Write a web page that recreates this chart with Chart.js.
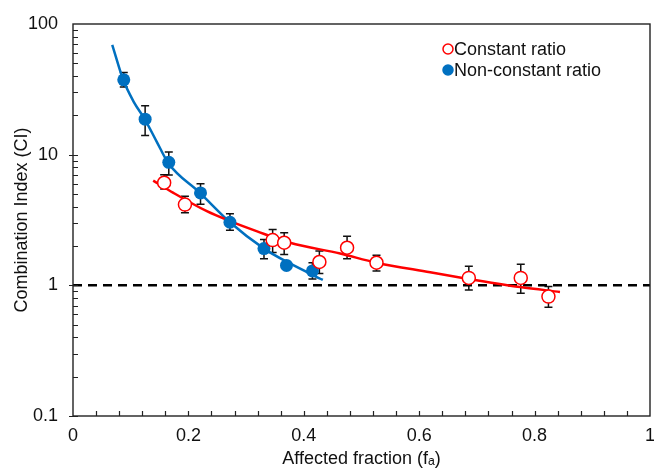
<!DOCTYPE html>
<html>
<head>
<meta charset="utf-8">
<script src="https://cdn.jsdelivr.net/npm/chart.js@4.4.0/dist/chart.umd.min.js"></script>
<style>
  html, body { margin: 0; padding: 0; background: #fff; }
  #wrap { width: 654px; height: 471px; }
</style>
</head>
<body>
<div id="wrap"><canvas id="ci_chart" width="654" height="471"></canvas></div>
<script>
// CONSTANT RATIO (open red circles)
const const_fa   = [0.158, 0.194, 0.346, 0.366, 0.427, 0.475, 0.526, 0.686, 0.776, 0.824];
const const_ci   = [6.10, 4.15, 2.22, 2.12, 1.51, 1.94, 1.49, 1.14, 1.14, 0.82];
const const_low  = [5.47, 3.59, 1.78, 1.72, 1.23, 1.60, 1.29, 0.92, 0.87, 0.68];
const const_high = [7.03, 4.81, 2.68, 2.53, 1.83, 2.38, 1.70, 1.40, 1.45, 0.98];

// NON-CONSTANT RATIO (filled blue circles)
const nonconst_fa   = [0.088, 0.125, 0.166, 0.221, 0.272, 0.331, 0.370, 0.415];
const nonconst_ci   = [37.4, 18.7, 8.73, 5.10, 3.04, 1.91, 1.42, 1.29];
const nonconst_low  = [32.9, 14.0, 7.0, 4.18, 2.64, 1.60, null, 1.12];
const nonconst_high = [42.5, 23.7, 10.5, 6.0, 3.53, 2.24, null, 1.49];

// FITTED CURVES
const const_fit_fa = [0.139, 0.174, 0.232, 0.272, 0.318, 0.376, 0.463, 0.526, 0.619, 0.685, 0.775, 0.844];
const const_fit_ci = [6.33, 5.10, 3.69, 3.10, 2.60, 2.12, 1.75, 1.49, 1.26, 1.12, 0.97, 0.89];
const nonconst_fit_fa = [0.068, 0.087, 0.105, 0.125, 0.145, 0.165, 0.220, 0.272, 0.331, 0.376, 0.433];
const nonconst_fit_ci = [69.2, 37.4, 25.5, 18.5, 12.6, 8.64, 5.10, 3.04, 1.91, 1.47, 1.10];

// CI = 1 reference line
const ref_fa = [0, 1];
const ref_ci = [1, 1];

// AXIS LABELS
const x_tick_labels = ['0', '0.2', '0.4', '0.6', '0.8', '1'];
const y_tick_values = [0.1, 1, 10, 100];
const y_tick_labels = ['0.1', '1', '10', '100'];

const RED = '#FF0000';
const BLUE = '#0070C0';
const FONT = 'Liberation Sans, Arial, sans-serif';

function toPoints(xs, ys){
	return xs.map((x, i) => ({ x: x, y: ys[i] }));
}

// error bars + frame + inner ticks + legend
const decorations = {
	id: 'decorations',
	beforeDatasetsDraw(chart){
		const { ctx, scales: { x, y } } = chart;
		ctx.save();
		ctx.strokeStyle = '#111';
		ctx.lineWidth = 1.5;
		const bars = [
			[const_fa, const_low, const_high],
			[nonconst_fa, nonconst_low, nonconst_high]
		];
		bars.forEach(([fa, low, high]) => {
			fa.forEach((f, i) => {
				if(low[i] == null) return;
				const px = x.getPixelForValue(f);
				const y1 = y.getPixelForValue(low[i]);
				const y2 = y.getPixelForValue(high[i]);
				ctx.beginPath();
				ctx.moveTo(px, y1); ctx.lineTo(px, y2);
				ctx.moveTo(px - 4, y1); ctx.lineTo(px + 4, y1);
				ctx.moveTo(px - 4, y2); ctx.lineTo(px + 4, y2);
				ctx.stroke();
			});
		});
		ctx.restore();
	},
	afterDraw(chart){
		const { ctx, chartArea: a, scales: { x, y } } = chart;
		ctx.save();
		ctx.strokeStyle = '#222';
		ctx.lineWidth = 1.4;
		ctx.strokeRect(a.left, a.top, a.right - a.left, a.bottom - a.top);

		ctx.lineWidth = 1.2;
		ctx.beginPath();
		// x ticks, every 0.04, pointing up
		for(let k = 1; k < 25; k++){
			const px = Math.round(x.getPixelForValue(k * 0.04)) + 0.5;
			ctx.moveTo(px, a.bottom);
			ctx.lineTo(px, a.bottom - 5);
		}
		// y log ticks, pointing right
		[0.1, 1, 10].forEach(dec => {
			for(let m = 1; m <= 9; m++){
				const py = Math.round(y.getPixelForValue(dec * m)) + 0.5;
				const major = m == 1;
				ctx.moveTo(a.left - (major ? 4 : 0), py);
				ctx.lineTo(a.left + 5, py);
			}
		});
		ctx.stroke();

		// legend
		const items = [
			{ label: chart.data.datasets[2].label, fill: '#fff', stroke: RED, y: 49 },
			{ label: chart.data.datasets[3].label, fill: BLUE, stroke: BLUE, y: 70 }
		];
		ctx.font = '18px ' + FONT;
		ctx.textBaseline = 'middle';
		items.forEach(it => {
			ctx.beginPath();
			ctx.arc(448, it.y, 5, 0, Math.PI * 2);
			ctx.fillStyle = it.fill;
			ctx.fill();
			ctx.lineWidth = 1.5;
			ctx.strokeStyle = it.stroke;
			ctx.stroke();
			ctx.fillStyle = '#111';
			ctx.fillText(it.label, 454, it.y + 1);
		});
		ctx.restore();
	}
};

const ctx = document.getElementById('ci_chart').getContext('2d');

const my_chart = new Chart(ctx, {
	type: 'scatter',
	data: {
		datasets: [{
			label: 'Constant ratio fit',
			type: 'line',
			data: toPoints(const_fit_fa, const_fit_ci),
			borderColor: RED,
			borderWidth: 2.5,
			pointRadius: 0,
			cubicInterpolationMode: 'monotone',
			fill: false,
			order: 3
		},{
			label: 'Non-constant ratio fit',
			type: 'line',
			data: toPoints(nonconst_fit_fa, nonconst_fit_ci),
			borderColor: BLUE,
			borderWidth: 2.5,
			pointRadius: 0,
			cubicInterpolationMode: 'monotone',
			fill: false,
			order: 3
		},{
			label: 'Constant ratio',
			data: toPoints(const_fa, const_ci),
			pointStyle: 'circle',
			pointRadius: 6.5,
			pointBackgroundColor: '#fff',
			pointBorderColor: RED,
			pointBorderWidth: 1.5,
			order: 1
		},{
			label: 'Non-constant ratio',
			data: toPoints(nonconst_fa, nonconst_ci),
			pointStyle: 'circle',
			pointRadius: 6.5,
			pointBackgroundColor: BLUE,
			pointBorderColor: BLUE,
			pointBorderWidth: 0,
			order: 1
		},{
			label: 'CI = 1',
			type: 'line',
			data: toPoints(ref_fa, ref_ci),
			borderColor: '#000',
			borderWidth: 2.5,
			borderDash: [9, 6],
			pointRadius: 0,
			fill: false,
			order: 4
		}]
	},
	options: {
		responsive: false,
		animation: false,
		devicePixelRatio: 1,
		layout: { autoPadding: false, padding: { top: 24, right: 4, left: 0, bottom: 0 } },
		plugins: {
			legend: { display: false },
			tooltip: { enabled: false }
		},
		scales: {
			x: {
				type: 'linear',
				min: 0,
				max: 1,
				grid: { display: false, drawTicks: false },
				border: { display: false },
				afterFit: scale => {
					scale.height = 55;
					scale.paddingLeft = 0;
					scale.paddingRight = 0;
				},
				afterBuildTicks: scale => {
					scale.ticks = x_tick_labels.map(t => ({ value: parseFloat(t) }));
				},
				ticks: {
					padding: 9,
					color: '#111',
					font: { family: FONT, size: 18 },
					maxRotation: 0,
					callback: (v, i) => x_tick_labels[i]
				},
				title: {
					display: true,
					text: 'Affected fraction (f\u2090)',
					color: '#111',
					font: { family: FONT, size: 18 },
					padding: { top: 0, bottom: 1 }
				}
			},
			y: {
				type: 'logarithmic',
				min: 0.1,
				max: 100,
				grid: { display: false, drawTicks: false },
				border: { display: false },
				afterFit: scale => {
					scale.width = 73;
					scale.paddingTop = 0;
					scale.paddingBottom = 0;
				},
				afterBuildTicks: scale => {
					scale.ticks = y_tick_values.map(v => ({ value: v }));
				},
				ticks: {
					padding: 15,
					color: '#111',
					font: { family: FONT, size: 18 },
					callback: (v, i) => y_tick_labels[i]
				},
				title: {
					display: true,
					text: 'Combination Index (CI)',
					color: '#111',
					font: { family: FONT, size: 18 },
					padding: { top: 11, bottom: 0 }
				}
			}
		}
	},
	plugins: [decorations]
});
</script>
</body>
</html>
